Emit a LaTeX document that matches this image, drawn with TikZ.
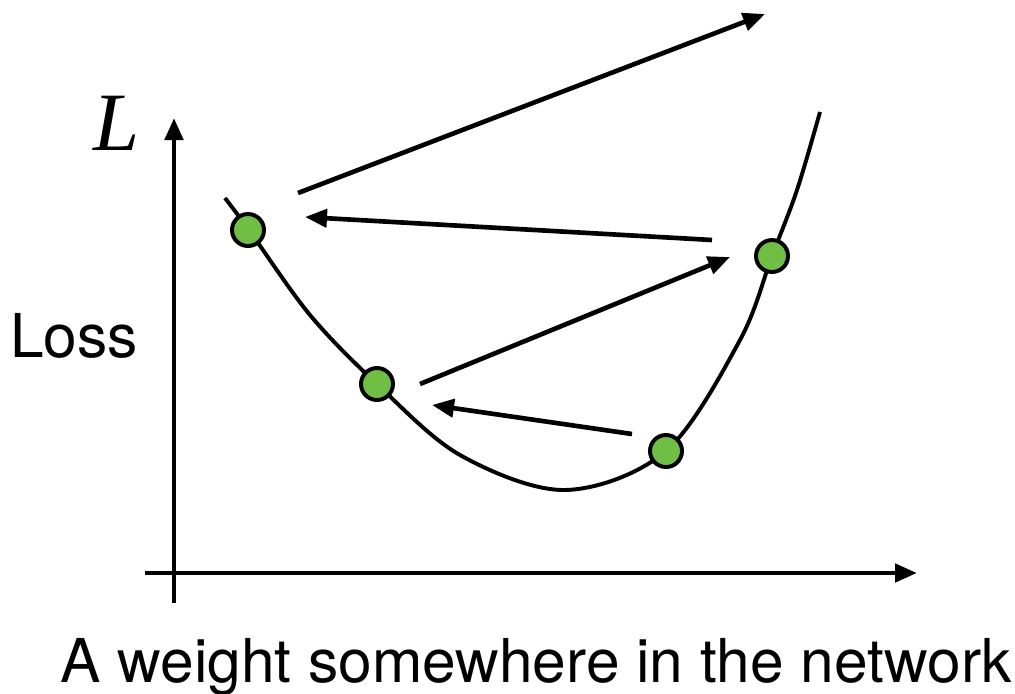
\documentclass[tikz,border=0pt]{standalone}
\usepackage{fontspec}
\setmainfont{TeX Gyre Heros}
\newfontfamily\serifL{Liberation Serif}
\usetikzlibrary{arrows.meta}
\definecolor{dotc}{RGB}{112,190,68}
\tikzset{
  axis/.style  = {line width=3.4pt, -{Triangle[length=0.55cm, width=0.45cm]}},
  jump/.style  = {line width=3.3pt, -{Triangle[length=0.55cm, width=0.45cm]}},
  lossc/.style = {line width=2.8pt},
  wdot/.style  = {circle, draw, line width=2.8pt, fill=dotc, minimum size=0.8cm, inner sep=0pt},
  lbl/.style   = {font=\fontsize{43}{50}\selectfont, inner sep=0pt},
}
\begin{document}
\begin{tikzpicture}[x=0.025cm, y=-0.025cm]
\useasboundingbox (0,0) rectangle (1015,693);

% ---- axes ----
\coordinate (o1) at (174,603);
\coordinate (ytip) at (174,118);
\coordinate (o2) at (145,573);
\coordinate (xtip) at (917,573);
\draw[axis] (o1) -- (ytip);
\draw[axis] (o2) -- (xtip);
\node[lbl, anchor=base west, font=\serifL\itshape\fontsize{59}{64}\selectfont] (yl) at (93,150) {L};
\node[lbl, anchor=base west] (loss) at (10,357) {Loss};
\node[lbl, anchor=base west] (wl) at (60,682) {A weight somewhere in the network};

% ---- loss curve ----
\draw[lossc] plot[smooth, tension=0.55] coordinates {(225,198) (249,230) (310,315) (377,384)
  (460,455) (565,490) (666,451) (740,340) (772,256) (797,190) (820,112)};

% ---- weights ----
\node[wdot] (w1) at (248,230) {};
\node[wdot] (w2) at (377,384) {};
\node[wdot] (w3) at (666,451) {};
\node[wdot] (w4) at (772,256) {};

% ---- updates ----
\coordinate (a1) at (632,434);  \coordinate (b1) at (432,405);
\coordinate (a2) at (420,384);  \coordinate (b2) at (730,257);
\coordinate (a3) at (712,240);  \coordinate (b3) at (305,217);
\coordinate (a4) at (298,193);  \coordinate (b4) at (765,14);
\draw[jump] (a1) -- (b1);
\draw[jump] (a2) -- (b2);
\draw[jump] (a3) -- (b3);
\draw[jump] (a4) -- (b4);

\end{tikzpicture}
\end{document}
